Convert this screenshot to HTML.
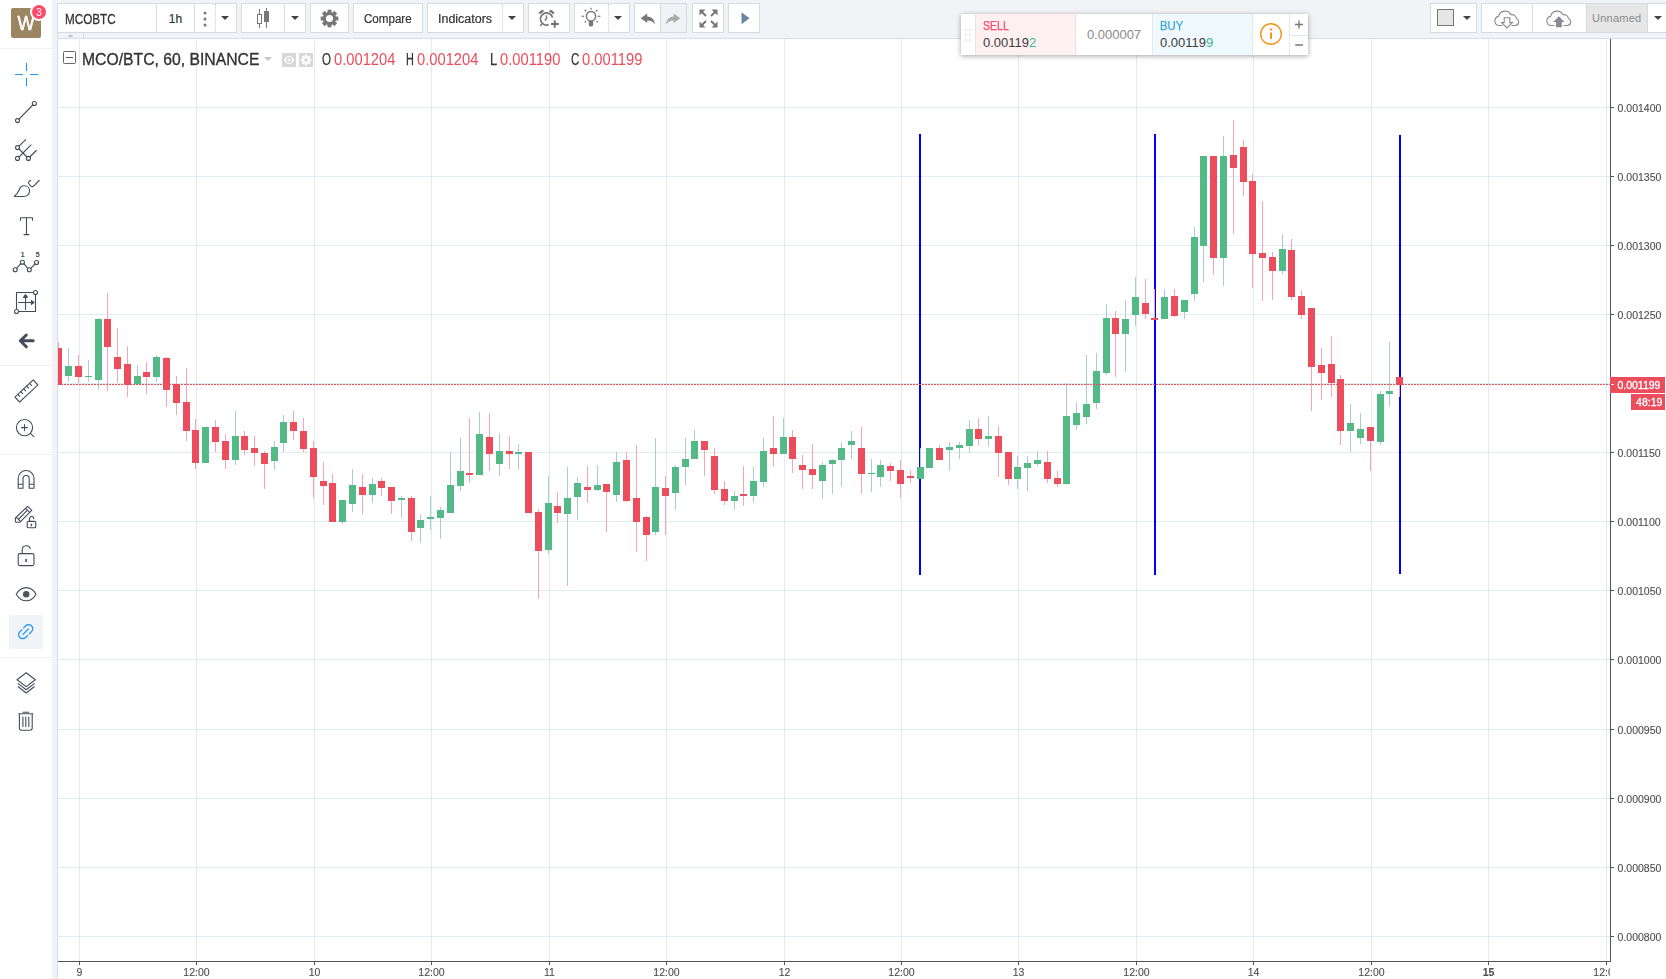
<!DOCTYPE html>
<html><head><meta charset="utf-8"><title>MCOBTC</title>
<style>
html,body{margin:0;padding:0}
body{width:1666px;height:979px;overflow:hidden;position:relative;background:#f1f3f6;font-family:"Liberation Sans",sans-serif;color:#4a4a4a}
.abs{position:absolute}
#left{position:absolute;left:0;top:0;width:52px;height:979px;background:#fff}
#paxis{position:absolute;left:1611px;top:39px;width:55px;height:940px;background:#fff}
#taxis{position:absolute;left:58px;top:962px;width:1553px;height:17px;background:#fff}
.btn{position:absolute;top:3px;height:28px;background:#fff;border:1px solid #d5dbe1;box-sizing:content-box}
.sep{position:absolute;top:0;width:1px;height:28px;background:#d5dbe1}
.dsep{position:absolute;top:0;width:0;height:28px;border-left:1px dotted #cdd2d8}
.tt{position:absolute;font-size:13px;color:#4a4a4a;white-space:nowrap}
.lsep{position:absolute;left:0;width:52px;height:1px;background:#eceff3}
</style></head><body>
<div id="left"></div>
<div id="paxis"></div>
<div id="taxis"></div>
<div class="abs" style="left:57px;top:38px;width:1609px;height:1px;background:#d8dde3"></div>
<div class="abs" style="left:57px;top:38px;width:1px;height:941px;background:#d8dde3"></div>
<!-- collapse tab -->
<div class="abs" style="left:57px;top:32px;width:27px;height:6px;background:#f1f3f6;border:1px solid #d8dde3;border-bottom:none;box-sizing:border-box"></div>
<svg class="abs" style="left:67px;top:33px" width="7" height="5" viewBox="0 0 7 5"><path d="M0.8 4 L3.5 1 L6.2 4 Z" fill="#c0c4c9"/></svg>
<!-- symbol group -->
<div class="btn" style="left:57px;width:178px">
  <div class="sep" style="left:98px"></div>
  <div class="sep" style="left:136px"></div>
  <div class="dsep" style="left:157px"></div>
  <span class="tt" style="left:7px;top:6.5px;font-size:14px;transform:scaleX(.835);transform-origin:0 50%;color:#333;-webkit-text-stroke:.3px #333">MCOBTC</span>
  <span class="tt" style="left:99px;width:37px;text-align:center;top:8px;font-size:12px;color:#333;-webkit-text-stroke:.2px #333">1h</span>
  <svg class="abs" style="left:144.3px;top:5.5px" width="6" height="18" viewBox="0 0 6 18"><circle cx="3" cy="3" r="1.5" fill="#777"/><circle cx="3" cy="9" r="1.5" fill="#777"/><circle cx="3" cy="15" r="1.5" fill="#777"/></svg>
  <svg class="abs" style="left:163px;top:12px" width="8" height="4" viewBox="0 0 8 4"><path d="M0 0H8L4 4Z" fill="#444"/></svg>
</div>
<!-- candle style -->
<div class="btn" style="left:241px;width:63px">
  <div class="sep" style="left:42px"></div>
  <svg class="abs" style="left:14px;top:3px" width="16" height="22" viewBox="0 0 16 22" shape-rendering="crispEdges"><rect x="3" y="2" width="1" height="19" fill="#777"/><rect x="1.5" y="7.5" width="4" height="9" fill="#fff" stroke="#777" stroke-width="1"/><rect x="10" y="1" width="1" height="20" fill="#777"/><rect x="8" y="4" width="5" height="11" fill="#777"/></svg>
  <svg class="abs" style="left:48.5px;top:12px" width="8" height="4" viewBox="0 0 8 4"><path d="M0 0H8L4 4Z" fill="#444"/></svg>
</div>
<!-- settings -->
<div class="btn" style="left:310px;width:37px">
  <svg class="abs" style="left:9px;top:5px" width="19" height="19" viewBox="-9.5 -9.5 19 19"><g fill="#777"><circle r="6.6"/><g id="tooth"><rect x="-2" y="-8.8" width="4" height="4"/></g><rect x="-2" y="-8.8" width="4" height="4" transform="rotate(45)"/><rect x="-2" y="-8.8" width="4" height="4" transform="rotate(90)"/><rect x="-2" y="-8.8" width="4" height="4" transform="rotate(135)"/><rect x="-2" y="-8.8" width="4" height="4" transform="rotate(180)"/><rect x="-2" y="-8.8" width="4" height="4" transform="rotate(225)"/><rect x="-2" y="-8.8" width="4" height="4" transform="rotate(270)"/><rect x="-2" y="-8.8" width="4" height="4" transform="rotate(315)"/></g><circle r="3.5" fill="#fff"/></svg>
</div>
<!-- compare -->
<div class="btn" style="left:353px;width:68px">
  <span class="tt" style="left:10px;top:8px;font-size:12px;transform:scaleX(.965);transform-origin:0 50%;color:#333;-webkit-text-stroke:.2px #333">Compare</span>
</div>
<!-- indicators -->
<div class="btn" style="left:427px;width:95px">
  <div class="dsep" style="left:74px"></div>
  <span class="tt" style="left:10px;top:8px;font-size:12px;transform:scaleX(1.04);transform-origin:0 50%;color:#333;-webkit-text-stroke:.2px #333">Indicators</span>
  <svg class="abs" style="left:80px;top:12px" width="8" height="4" viewBox="0 0 8 4"><path d="M0 0H8L4 4Z" fill="#444"/></svg>
</div>
<!-- alarm -->
<div class="btn" style="left:528px;width:40px">
  <svg class="abs" style="left:8px;top:4px" width="24" height="22" viewBox="0 0 24 22" fill="none" stroke="#757575"><path d="M15.49 9.57A6.1 6.1 0 1 0 11.64 16.67" stroke-width="1.7"/><path d="M9.55 7.3V10.4L7.8 12.7" stroke-width="1.4"/><path d="M2.3 5.6A9.1 9.1 0 0 1 6.5 2.6M12.6 2.6A9.1 9.1 0 0 1 16.8 5.6" stroke-width="2.2"/><path d="M5.2 15.7L3.2 17.7" stroke-width="1.6"/><path d="M17.76 12.2V19.8M14 16H21.8" stroke-width="1.9" stroke="#6e6e6e"/></svg>
</div>
<!-- idea -->
<div class="btn" style="left:574px;width:54px">
  <div class="dsep" style="left:33px"></div>
  <svg class="abs" style="left:5.1px;top:2.3px" width="22" height="24" viewBox="0 0 22 24" fill="none" stroke="#777"><ellipse cx="11" cy="10.2" rx="4.6" ry="4.8" stroke-width="1.5" fill="#fff"/><path d="M8.8 14.7h4.4v3.7a2.2 2.2 0 0 1-4.4 0z" fill="#777" stroke="none"/><path d="M11 1.8v1.8M4.6 3.9l1.7 1.5M17.4 3.9l-1.7 1.5M1.6 10.2h2.5M17.9 10.2h2.5M4.6 16.4l1.4-1.2M17.9 16.3l-1.4-1.2" stroke-width="1.15" stroke="#666"/></svg>
  <svg class="abs" style="left:39.3px;top:12px" width="8" height="4" viewBox="0 0 8 4"><path d="M0 0H8L4 4Z" fill="#444"/></svg>
</div>
<!-- undo redo -->
<div class="btn" style="left:634px;width:51px">
  <div class="abs" style="left:26px;top:0;width:25px;height:28px;background:#f0f2f5"></div>
  <div class="sep" style="left:25px"></div>
  <svg class="abs" style="left:5px;top:9px" width="16" height="13" viewBox="0 0 16 13"><path d="M0.8 5.2L7.2 0.6V3.4C12 3.6 14.6 6.8 15 11.6C13.2 8.6 11 7.4 7.2 7.4V10Z" fill="#777"/></svg>
  <svg class="abs" style="left:30px;top:9px" width="16" height="13" viewBox="0 0 16 13"><path d="M15.2 5.2L8.8 0.6V3.4C4 3.6 1.4 6.8 1 11.6C2.8 8.6 5 7.4 8.8 7.4V10Z" fill="#aaa"/></svg>
</div>
<!-- fullscreen -->
<div class="btn" style="left:692px;width:30px">
  <svg class="abs" style="left:5.6px;top:4.6px" width="19" height="19" viewBox="0 0 19 19" fill="#777" stroke="#777"><path d="M0.5 0.5h6l-6 6z M18.5 0.5v6l-6-6z M0.5 18.5v-6l6 6z M18.5 18.5h-6l6-6z" stroke="none"/><path d="M2.5 2.5l4.5 4.5M16.5 2.5l-4.5 4.5M2.5 16.5l4.5-4.5M16.5 16.5l-4.5-4.5" stroke-width="2"/></svg>
</div>
<!-- play -->
<div class="btn" style="left:728px;width:30px">
  <svg class="abs" style="left:12px;top:8px" width="9" height="13" viewBox="0 0 9 13"><path d="M0.5 0.3L8.6 6.3L0.5 12.3Z" fill="#6b87a3"/></svg>
</div>
<!-- layout -->
<div class="btn" style="left:1430px;width:45px">
  <div class="abs" style="left:6px;top:5px;width:15px;height:15px;border:1px solid #777;background:#e6e6e6"></div>
  <svg class="abs" style="left:32px;top:12px" width="8" height="4" viewBox="0 0 8 4"><path d="M0 0H8L4 4Z" fill="#444"/></svg>
</div>
<!-- cloud group -->
<div class="btn" style="left:1481px;width:190px">
  <div class="sep" style="left:50px"></div>
  <div class="sep" style="left:104px"></div><div class="abs" style="left:105px;top:0;width:60px;height:28px;background:#e6e6e6"></div><div class="sep" style="left:165px"></div>
  <svg class="abs" style="left:10.9px;top:5.7px" width="28" height="19" viewBox="0 0 28 19" fill="none" stroke="#8a8a90" stroke-width="1.1"><path d="M9.5 15.5H6.2A4.6 4.6 0 0 1 5.6 6.4A6.6 6.6 0 0 1 18 4.8A4.2 4.2 0 0 1 23.4 8.6A3.6 3.6 0 0 1 22.6 15.5H18.5"/><path d="M11.2 7.8h5.6v4.8h2.6L14 17.9L8.6 12.6h2.6z" fill="#fff"/></svg>
  <svg class="abs" style="left:62.9px;top:5.7px" width="28" height="19" viewBox="0 0 28 19" fill="none" stroke="#8a8a90" stroke-width="1.1"><path d="M9.5 15.5H6.2A4.6 4.6 0 0 1 5.6 6.4A6.6 6.6 0 0 1 18 4.8A4.2 4.2 0 0 1 23.4 8.6A3.6 3.6 0 0 1 22.6 15.5H18.5"/><path d="M10.9 17.2v-5.3H8.3L13.85 6.2L19.4 11.9H16.8v5.3z" fill="#8a8a90" stroke="none"/></svg>
  <span class="tt" style="left:110px;top:8px;font-size:11px;letter-spacing:.25px;color:#8a8a8a">Unnamed</span>
  <svg class="abs" style="left:172px;top:12px" width="8" height="4" viewBox="0 0 8 4"><path d="M0 0H8L4 4Z" fill="#444"/></svg>
</div>

<!-- avatar -->
<div class="abs" style="left:11px;top:8px;width:30px;height:30px;background:#9c8561;border-radius:2px"></div>
<div class="abs" style="left:10.5px;top:8px;width:30px;height:30px;line-height:30px;text-align:center;color:#fff;font-size:19.5px;transform:scaleX(.93);-webkit-text-stroke:.5px #fff">W</div>
<div class="abs" style="left:30px;top:3px;width:14px;height:14px;border-radius:50%;background:#ff4a68;border:2px solid #fff;color:#fff;font-size:10px;line-height:15.5px;text-align:center">3</div>
<div class="lsep" style="top:48px"></div>
<div class="lsep" style="top:365px"></div>
<div class="lsep" style="top:454px"></div>
<div class="lsep" style="top:657px"></div>
<div class="abs" style="left:9px;top:615px;width:34px;height:34px;border-radius:3px;background:#f1f3f6"></div>
<svg class="abs" style="left:0;top:48px" width="52" height="700" viewBox="0 48 52 700" fill="none" stroke="#454b58" stroke-width="1.1" stroke-linecap="round" stroke-linejoin="round">
<!-- crosshair -->
<path d="M15 74.5H23M30 74.5H38M26.5 63V71M26.5 78V86" stroke="#2196f3" stroke-width="1.1" stroke-linecap="butt"/>
<!-- trend line -->
<path d="M19 119.2L32.8 105"/><circle cx="17.5" cy="120.6" r="2"/><circle cx="34.3" cy="103.5" r="2"/>
<!-- pitchfork -->
<path d="M19 146.2L25.7 139.6M19 149L27 157M19 157L31 144.8M29.8 157L36.3 150.5"/><circle cx="17.5" cy="147.6" r="2"/><circle cx="17.5" cy="158.4" r="2"/><circle cx="28.4" cy="158.4" r="2"/>
<!-- brush -->
<path d="M14.3 196.5H23.6C27 196.5 29.6 194 29.6 190.8C29.6 187.8 27 185.8 24 185.8C21.6 185.8 20.3 187 19.4 189.5C18.5 192 16.6 194.4 14.3 196.5Z"/><path d="M30.7 180.4C29 181.3 28 182.3 28.7 183.5L30.6 185.8C31.6 186.9 32.8 186.9 33.8 185.9L39.2 180.5"/>
<!-- T -->
<path d="M20.5 220.2V217.8H32.5V220.2M26.5 217.8V234.6M24 234.6H29"/>
<!-- pattern -->
<path d="M16.6 268.3L21 263.7M23.8 263.7L27.9 268.3M30.7 268.3L35.1 264"/><circle cx="15.2" cy="269.7" r="2"/><circle cx="22.4" cy="262.2" r="2"/><circle cx="29.3" cy="269.7" r="2"/><circle cx="36.5" cy="262.5" r="2"/>
<!-- measure -->
<path d="M16.5 309.6V292.5H33.6M35.5 294.5V311.5H18.3"/><circle cx="35.5" cy="292.5" r="2" fill="#fff"/><circle cx="16.5" cy="311.5" r="2" fill="#fff"/><path d="M25.5 309.5V295.5M18.5 302.5H32.5"/><path d="M23.6 297.4L25.5 294.6L27.4 297.4ZM31.4 300.6L34 302.5L31.4 304.4Z" fill="#4c525e"/>
<!-- back arrow -->
<path d="M26.3 335L20.3 340.8L26.3 346.8M20.8 340.8H33.2" stroke-width="3"/>
<!-- ruler -->
<g transform="translate(26.4 391) rotate(-43)"><rect x="-12.5" y="-3.4" width="25" height="6.8"/><path d="M-8.5 -3.4V-0.6M-4.5 -3.4V-0.6M-0.5 -3.4V-0.6M3.5 -3.4V-0.6M7.5 -3.4V-0.6"/></g>
<!-- zoom -->
<circle cx="24.5" cy="427.6" r="8.1"/><path d="M24.5 424.6V430.6M21.5 427.6H27.5M30.5 433.4L33.8 436.6"/>
<!-- magnet -->
<path d="M18.2 488.2V478.4A7.9 7.9 0 0 1 34 478.4V488.2H29.2V478.6A3.1 3.1 0 0 0 23 478.6V488.2ZM18.2 484.3H23M29.2 484.3H34"/>
<!-- pencil lock -->
<path d="M15.4 518L27.6 506.3L31.8 510.4L20 522.2H16.4A1 1 0 0 1 15.4 521.2ZM25.6 508.3L29.6 512.4M16.4 517.4L20.6 521.6M18.7 519L27.5 510.1"/>
<rect x="27.2" y="521.4" width="8.5" height="6.3" rx="1" fill="#fff"/><path d="M29.6 521.3V518.4A2.05 2.05 0 0 1 33.7 518.6"/><path d="M31.45 524.3V525.7" stroke-width="1.3"/>
<!-- lock -->
<rect x="18.2" y="553.6" width="15.8" height="12" rx="1.6"/><path d="M22.2 553.4V549.6A4.1 4.1 0 0 1 30.2 548.6"/><path d="M26.1 559V562" stroke-width="1.6" stroke-linecap="butt"/>
<!-- eye -->
<path d="M16.2 594.2C19 589.6 22.4 587.6 26.2 587.6C30 587.6 33.4 589.6 36 594.2C33.4 598.8 30 600.8 26.2 600.8C22.4 600.8 19 598.8 16.2 594.2Z"/><circle cx="26.2" cy="594.2" r="3.2" fill="#4c525e" stroke="none"/>
<!-- link -->
<g transform="translate(25.65 631.65) rotate(-45)" stroke="#2196f3" stroke-width="1.3"><path d="M-1.2 -4.1H-4.15A4.1 4.1 0 0 0 -4.15 4.1H-1.2M1.2 -4.1H4.15A4.1 4.1 0 0 1 4.15 4.1H1.2M-3.8 0H3.8"/></g>
<!-- layers -->
<path d="M26.2 672.8L35.4 679.7L26.2 686.6L17 679.7Z"/><path d="M18.2 683.6L26.2 689.8L34.2 683.6M18.2 686.8L26.2 693L34.2 686.8"/>
<!-- trash -->
<path d="M18.8 713.7H32.8M23 712.2H28.6M19.4 713.7V728A2.2 2.2 0 0 0 21.6 730.2H30A2.2 2.2 0 0 0 32.2 728V713.7M22.9 717V726.6M25.8 717V726.6M28.8 717V726.6"/>
</svg>
<div class="abs" style="left:19px;top:250px;font-size:7.5px;font-weight:bold;color:#4c525e;width:7px;text-align:center;line-height:9px">1</div>
<div class="abs" style="left:34px;top:250px;font-size:7.5px;font-weight:bold;color:#4c525e;width:7px;text-align:center;line-height:9px">5</div>

<svg id="chart" width="1666" height="979" viewBox="0 0 1666 979" style="position:absolute;left:0;top:0" shape-rendering="crispEdges">
<defs><clipPath id="cp"><rect x="58" y="39" width="1552" height="922"/></clipPath></defs>
<rect x="58" y="39" width="1552" height="922" fill="#fff"/>
<g clip-path="url(#cp)">
<rect x="79" y="39" width="1" height="922" fill="#e1ecf2"/>
<rect x="196" y="39" width="1" height="922" fill="#e1ecf2"/>
<rect x="314" y="39" width="1" height="922" fill="#e1ecf2"/>
<rect x="431" y="39" width="1" height="922" fill="#e1ecf2"/>
<rect x="549" y="39" width="1" height="922" fill="#e1ecf2"/>
<rect x="666" y="39" width="1" height="922" fill="#e1ecf2"/>
<rect x="784" y="39" width="1" height="922" fill="#e1ecf2"/>
<rect x="901" y="39" width="1" height="922" fill="#e1ecf2"/>
<rect x="1018" y="39" width="1" height="922" fill="#e1ecf2"/>
<rect x="1136" y="39" width="1" height="922" fill="#e1ecf2"/>
<rect x="1253" y="39" width="1" height="922" fill="#e1ecf2"/>
<rect x="1371" y="39" width="1" height="922" fill="#e1ecf2"/>
<rect x="1488" y="39" width="1" height="922" fill="#e1ecf2"/>
<rect x="1606" y="39" width="1" height="922" fill="#e1ecf2"/>
<rect x="58" y="107" width="1552" height="1" fill="#e1ecf2"/>
<rect x="58" y="176" width="1552" height="1" fill="#e1ecf2"/>
<rect x="58" y="245" width="1552" height="1" fill="#e1ecf2"/>
<rect x="58" y="314" width="1552" height="1" fill="#e1ecf2"/>
<rect x="58" y="383" width="1552" height="1" fill="#e1ecf2"/>
<rect x="58" y="452" width="1552" height="1" fill="#e1ecf2"/>
<rect x="58" y="521" width="1552" height="1" fill="#e1ecf2"/>
<rect x="58" y="590" width="1552" height="1" fill="#e1ecf2"/>
<rect x="58" y="659" width="1552" height="1" fill="#e1ecf2"/>
<rect x="58" y="729" width="1552" height="1" fill="#e1ecf2"/>
<rect x="58" y="798" width="1552" height="1" fill="#e1ecf2"/>
<rect x="58" y="867" width="1552" height="1" fill="#e1ecf2"/>
<rect x="58" y="936" width="1552" height="1" fill="#e1ecf2"/>
<rect x="919" y="134" width="2" height="441" fill="#0000ff"/>
<rect x="1154" y="134" width="2" height="441" fill="#0000ff"/>
<rect x="1399" y="135" width="2" height="439" fill="#0000ff"/>
<rect x="58" y="342" width="1" height="43" fill="#f5a6ae"/>
<rect x="68" y="348" width="1" height="34" fill="#a9cdd3"/>
<rect x="78" y="355" width="1" height="28" fill="#f5a6ae"/>
<rect x="88" y="360" width="1" height="22" fill="#a9cdd3"/>
<rect x="98" y="318" width="1" height="72" fill="#a9cdd3"/>
<rect x="107" y="293" width="1" height="98" fill="#f5a6ae"/>
<rect x="117" y="328" width="1" height="55" fill="#f5a6ae"/>
<rect x="127" y="346" width="1" height="51" fill="#f5a6ae"/>
<rect x="137" y="365" width="1" height="19" fill="#a9cdd3"/>
<rect x="146" y="362" width="1" height="32" fill="#f5a6ae"/>
<rect x="156" y="355" width="1" height="27" fill="#a9cdd3"/>
<rect x="166" y="357" width="1" height="50" fill="#f5a6ae"/>
<rect x="176" y="376" width="1" height="39" fill="#f5a6ae"/>
<rect x="186" y="368" width="1" height="73" fill="#f5a6ae"/>
<rect x="195" y="419" width="1" height="50" fill="#f5a6ae"/>
<rect x="205" y="427" width="1" height="36" fill="#a9cdd3"/>
<rect x="215" y="420" width="1" height="32" fill="#f5a6ae"/>
<rect x="225" y="434" width="1" height="35" fill="#f5a6ae"/>
<rect x="235" y="411" width="1" height="54" fill="#a9cdd3"/>
<rect x="244" y="431" width="1" height="24" fill="#f5a6ae"/>
<rect x="254" y="436" width="1" height="30" fill="#f5a6ae"/>
<rect x="264" y="451" width="1" height="38" fill="#f5a6ae"/>
<rect x="274" y="441" width="1" height="29" fill="#a9cdd3"/>
<rect x="283" y="415" width="1" height="37" fill="#a9cdd3"/>
<rect x="293" y="411" width="1" height="29" fill="#f5a6ae"/>
<rect x="303" y="418" width="1" height="34" fill="#f5a6ae"/>
<rect x="313" y="441" width="1" height="57" fill="#f5a6ae"/>
<rect x="323" y="462" width="1" height="43" fill="#f5a6ae"/>
<rect x="332" y="474" width="1" height="48" fill="#f5a6ae"/>
<rect x="342" y="500" width="1" height="24" fill="#a9cdd3"/>
<rect x="352" y="469" width="1" height="43" fill="#a9cdd3"/>
<rect x="362" y="474" width="1" height="40" fill="#f5a6ae"/>
<rect x="372" y="478" width="1" height="25" fill="#a9cdd3"/>
<rect x="381" y="478" width="1" height="18" fill="#f5a6ae"/>
<rect x="391" y="487" width="1" height="27" fill="#f5a6ae"/>
<rect x="401" y="496" width="1" height="22" fill="#a9cdd3"/>
<rect x="411" y="496" width="1" height="45" fill="#f5a6ae"/>
<rect x="420" y="514" width="1" height="29" fill="#a9cdd3"/>
<rect x="430" y="496" width="1" height="34" fill="#a9cdd3"/>
<rect x="440" y="507" width="1" height="32" fill="#a9cdd3"/>
<rect x="450" y="452" width="1" height="61" fill="#a9cdd3"/>
<rect x="460" y="438" width="1" height="53" fill="#a9cdd3"/>
<rect x="469" y="418" width="1" height="65" fill="#f5a6ae"/>
<rect x="479" y="412" width="1" height="63" fill="#a9cdd3"/>
<rect x="489" y="413" width="1" height="58" fill="#f5a6ae"/>
<rect x="499" y="433" width="1" height="43" fill="#a9cdd3"/>
<rect x="509" y="436" width="1" height="33" fill="#f5a6ae"/>
<rect x="518" y="444" width="1" height="26" fill="#a9cdd3"/>
<rect x="528" y="452" width="1" height="61" fill="#f5a6ae"/>
<rect x="538" y="509" width="1" height="90" fill="#f5a6ae"/>
<rect x="548" y="476" width="1" height="78" fill="#a9cdd3"/>
<rect x="557" y="492" width="1" height="31" fill="#f5a6ae"/>
<rect x="567" y="467" width="1" height="119" fill="#a9cdd3"/>
<rect x="577" y="477" width="1" height="43" fill="#a9cdd3"/>
<rect x="587" y="466" width="1" height="37" fill="#f5a6ae"/>
<rect x="597" y="465" width="1" height="26" fill="#a9cdd3"/>
<rect x="606" y="484" width="1" height="48" fill="#f5a6ae"/>
<rect x="616" y="452" width="1" height="50" fill="#a9cdd3"/>
<rect x="626" y="452" width="1" height="50" fill="#f5a6ae"/>
<rect x="636" y="445" width="1" height="107" fill="#f5a6ae"/>
<rect x="646" y="516" width="1" height="45" fill="#f5a6ae"/>
<rect x="655" y="438" width="1" height="97" fill="#a9cdd3"/>
<rect x="665" y="476" width="1" height="59" fill="#f5a6ae"/>
<rect x="675" y="465" width="1" height="45" fill="#a9cdd3"/>
<rect x="685" y="438" width="1" height="47" fill="#a9cdd3"/>
<rect x="694" y="430" width="1" height="29" fill="#a9cdd3"/>
<rect x="704" y="441" width="1" height="35" fill="#f5a6ae"/>
<rect x="714" y="448" width="1" height="46" fill="#f5a6ae"/>
<rect x="724" y="481" width="1" height="24" fill="#f5a6ae"/>
<rect x="734" y="491" width="1" height="19" fill="#a9cdd3"/>
<rect x="743" y="466" width="1" height="40" fill="#f5a6ae"/>
<rect x="753" y="467" width="1" height="36" fill="#a9cdd3"/>
<rect x="763" y="438" width="1" height="49" fill="#a9cdd3"/>
<rect x="773" y="416" width="1" height="51" fill="#f5a6ae"/>
<rect x="783" y="418" width="1" height="36" fill="#a9cdd3"/>
<rect x="792" y="430" width="1" height="43" fill="#f5a6ae"/>
<rect x="802" y="455" width="1" height="34" fill="#f5a6ae"/>
<rect x="812" y="444" width="1" height="45" fill="#f5a6ae"/>
<rect x="822" y="462" width="1" height="37" fill="#a9cdd3"/>
<rect x="832" y="459" width="1" height="35" fill="#a9cdd3"/>
<rect x="841" y="442" width="1" height="45" fill="#a9cdd3"/>
<rect x="851" y="431" width="1" height="28" fill="#a9cdd3"/>
<rect x="861" y="427" width="1" height="67" fill="#f5a6ae"/>
<rect x="871" y="459" width="1" height="33" fill="#a9cdd3"/>
<rect x="880" y="460" width="1" height="27" fill="#a9cdd3"/>
<rect x="890" y="463" width="1" height="18" fill="#f5a6ae"/>
<rect x="900" y="460" width="1" height="38" fill="#f5a6ae"/>
<rect x="910" y="470" width="1" height="13" fill="#f5a6ae"/>
<rect x="920" y="448" width="1" height="31" fill="#a9cdd3"/>
<rect x="929" y="448" width="1" height="20" fill="#a9cdd3"/>
<rect x="939" y="445" width="1" height="15" fill="#f5a6ae"/>
<rect x="949" y="442" width="1" height="29" fill="#a9cdd3"/>
<rect x="959" y="442" width="1" height="17" fill="#a9cdd3"/>
<rect x="969" y="420" width="1" height="33" fill="#a9cdd3"/>
<rect x="978" y="418" width="1" height="27" fill="#f5a6ae"/>
<rect x="988" y="416" width="1" height="31" fill="#a9cdd3"/>
<rect x="998" y="426" width="1" height="51" fill="#f5a6ae"/>
<rect x="1008" y="452" width="1" height="33" fill="#f5a6ae"/>
<rect x="1017" y="456" width="1" height="33" fill="#a9cdd3"/>
<rect x="1027" y="456" width="1" height="35" fill="#a9cdd3"/>
<rect x="1037" y="451" width="1" height="15" fill="#a9cdd3"/>
<rect x="1047" y="451" width="1" height="32" fill="#f5a6ae"/>
<rect x="1057" y="471" width="1" height="16" fill="#f5a6ae"/>
<rect x="1066" y="383" width="1" height="102" fill="#a9cdd3"/>
<rect x="1076" y="402" width="1" height="28" fill="#a9cdd3"/>
<rect x="1086" y="355" width="1" height="69" fill="#a9cdd3"/>
<rect x="1096" y="353" width="1" height="56" fill="#a9cdd3"/>
<rect x="1106" y="304" width="1" height="71" fill="#a9cdd3"/>
<rect x="1115" y="311" width="1" height="66" fill="#f5a6ae"/>
<rect x="1125" y="300" width="1" height="72" fill="#a9cdd3"/>
<rect x="1135" y="277" width="1" height="49" fill="#a9cdd3"/>
<rect x="1145" y="279" width="1" height="40" fill="#f5a6ae"/>
<rect x="1154" y="289" width="1" height="31" fill="#f5a6ae"/>
<rect x="1164" y="289" width="1" height="30" fill="#a9cdd3"/>
<rect x="1174" y="289" width="1" height="28" fill="#f5a6ae"/>
<rect x="1184" y="300" width="1" height="19" fill="#a9cdd3"/>
<rect x="1194" y="227" width="1" height="74" fill="#a9cdd3"/>
<rect x="1203" y="156" width="1" height="126" fill="#a9cdd3"/>
<rect x="1213" y="156" width="1" height="119" fill="#f5a6ae"/>
<rect x="1223" y="136" width="1" height="150" fill="#a9cdd3"/>
<rect x="1233" y="120" width="1" height="114" fill="#f5a6ae"/>
<rect x="1243" y="140" width="1" height="56" fill="#f5a6ae"/>
<rect x="1252" y="174" width="1" height="114" fill="#f5a6ae"/>
<rect x="1262" y="201" width="1" height="100" fill="#f5a6ae"/>
<rect x="1272" y="252" width="1" height="48" fill="#f5a6ae"/>
<rect x="1282" y="234" width="1" height="41" fill="#a9cdd3"/>
<rect x="1291" y="239" width="1" height="61" fill="#f5a6ae"/>
<rect x="1301" y="290" width="1" height="29" fill="#f5a6ae"/>
<rect x="1311" y="308" width="1" height="103" fill="#f5a6ae"/>
<rect x="1321" y="348" width="1" height="52" fill="#f5a6ae"/>
<rect x="1331" y="336" width="1" height="61" fill="#f5a6ae"/>
<rect x="1340" y="375" width="1" height="70" fill="#f5a6ae"/>
<rect x="1350" y="404" width="1" height="48" fill="#a9cdd3"/>
<rect x="1360" y="413" width="1" height="31" fill="#a9cdd3"/>
<rect x="1370" y="427" width="1" height="44" fill="#f5a6ae"/>
<rect x="1380" y="391" width="1" height="54" fill="#a9cdd3"/>
<rect x="1389" y="342" width="1" height="65" fill="#a9cdd3"/>
<rect x="1399" y="377" width="1" height="20" fill="#f5a6ae"/>
<rect x="55" y="348" width="7" height="37" fill="#eb4d5c"/>
<rect x="65" y="366" width="7" height="10" fill="#53b987"/>
<rect x="75" y="366" width="7" height="11" fill="#eb4d5c"/>
<rect x="85" y="376" width="7" height="1" fill="#53b987"/>
<rect x="95" y="319" width="7" height="61" fill="#53b987"/>
<rect x="104" y="319" width="7" height="28" fill="#eb4d5c"/>
<rect x="114" y="357" width="7" height="12" fill="#eb4d5c"/>
<rect x="124" y="364" width="7" height="21" fill="#eb4d5c"/>
<rect x="134" y="376" width="7" height="8" fill="#53b987"/>
<rect x="143" y="372" width="7" height="5" fill="#eb4d5c"/>
<rect x="153" y="357" width="7" height="20" fill="#53b987"/>
<rect x="163" y="358" width="7" height="32" fill="#eb4d5c"/>
<rect x="173" y="384" width="7" height="19" fill="#eb4d5c"/>
<rect x="183" y="402" width="7" height="29" fill="#eb4d5c"/>
<rect x="192" y="430" width="7" height="33" fill="#eb4d5c"/>
<rect x="202" y="427" width="7" height="36" fill="#53b987"/>
<rect x="212" y="427" width="7" height="15" fill="#eb4d5c"/>
<rect x="222" y="441" width="7" height="19" fill="#eb4d5c"/>
<rect x="232" y="436" width="7" height="24" fill="#53b987"/>
<rect x="241" y="436" width="7" height="14" fill="#eb4d5c"/>
<rect x="251" y="448" width="7" height="5" fill="#eb4d5c"/>
<rect x="261" y="453" width="7" height="11" fill="#eb4d5c"/>
<rect x="271" y="447" width="7" height="14" fill="#53b987"/>
<rect x="280" y="422" width="7" height="21" fill="#53b987"/>
<rect x="290" y="422" width="7" height="9" fill="#eb4d5c"/>
<rect x="300" y="431" width="7" height="18" fill="#eb4d5c"/>
<rect x="310" y="448" width="7" height="29" fill="#eb4d5c"/>
<rect x="320" y="481" width="7" height="5" fill="#eb4d5c"/>
<rect x="329" y="483" width="7" height="39" fill="#eb4d5c"/>
<rect x="339" y="500" width="7" height="22" fill="#53b987"/>
<rect x="349" y="485" width="7" height="19" fill="#53b987"/>
<rect x="359" y="487" width="7" height="8" fill="#eb4d5c"/>
<rect x="369" y="484" width="7" height="11" fill="#53b987"/>
<rect x="378" y="481" width="7" height="7" fill="#eb4d5c"/>
<rect x="388" y="487" width="7" height="14" fill="#eb4d5c"/>
<rect x="398" y="498" width="7" height="2" fill="#53b987"/>
<rect x="408" y="498" width="7" height="34" fill="#eb4d5c"/>
<rect x="417" y="520" width="7" height="8" fill="#53b987"/>
<rect x="427" y="517" width="7" height="2" fill="#53b987"/>
<rect x="437" y="510" width="7" height="8" fill="#53b987"/>
<rect x="447" y="485" width="7" height="28" fill="#53b987"/>
<rect x="457" y="471" width="7" height="15" fill="#53b987"/>
<rect x="466" y="473" width="7" height="2" fill="#eb4d5c"/>
<rect x="476" y="434" width="7" height="41" fill="#53b987"/>
<rect x="486" y="437" width="7" height="17" fill="#eb4d5c"/>
<rect x="496" y="451" width="7" height="13" fill="#53b987"/>
<rect x="506" y="451" width="7" height="3" fill="#eb4d5c"/>
<rect x="515" y="452" width="7" height="2" fill="#53b987"/>
<rect x="525" y="452" width="7" height="61" fill="#eb4d5c"/>
<rect x="535" y="512" width="7" height="39" fill="#eb4d5c"/>
<rect x="545" y="503" width="7" height="47" fill="#53b987"/>
<rect x="554" y="506" width="7" height="7" fill="#eb4d5c"/>
<rect x="564" y="498" width="7" height="16" fill="#53b987"/>
<rect x="574" y="483" width="7" height="14" fill="#53b987"/>
<rect x="584" y="487" width="7" height="3" fill="#eb4d5c"/>
<rect x="594" y="485" width="7" height="5" fill="#53b987"/>
<rect x="603" y="484" width="7" height="8" fill="#eb4d5c"/>
<rect x="613" y="462" width="7" height="33" fill="#53b987"/>
<rect x="623" y="460" width="7" height="41" fill="#eb4d5c"/>
<rect x="633" y="498" width="7" height="24" fill="#eb4d5c"/>
<rect x="643" y="517" width="7" height="18" fill="#eb4d5c"/>
<rect x="652" y="487" width="7" height="45" fill="#53b987"/>
<rect x="662" y="488" width="7" height="8" fill="#eb4d5c"/>
<rect x="672" y="467" width="7" height="26" fill="#53b987"/>
<rect x="682" y="459" width="7" height="8" fill="#53b987"/>
<rect x="691" y="441" width="7" height="18" fill="#53b987"/>
<rect x="701" y="441" width="7" height="9" fill="#eb4d5c"/>
<rect x="711" y="456" width="7" height="34" fill="#eb4d5c"/>
<rect x="721" y="489" width="7" height="12" fill="#eb4d5c"/>
<rect x="731" y="496" width="7" height="5" fill="#53b987"/>
<rect x="740" y="494" width="7" height="2" fill="#eb4d5c"/>
<rect x="750" y="481" width="7" height="15" fill="#53b987"/>
<rect x="760" y="451" width="7" height="31" fill="#53b987"/>
<rect x="770" y="448" width="7" height="6" fill="#eb4d5c"/>
<rect x="780" y="437" width="7" height="17" fill="#53b987"/>
<rect x="789" y="437" width="7" height="22" fill="#eb4d5c"/>
<rect x="799" y="465" width="7" height="5" fill="#eb4d5c"/>
<rect x="809" y="469" width="7" height="6" fill="#eb4d5c"/>
<rect x="819" y="465" width="7" height="16" fill="#53b987"/>
<rect x="829" y="460" width="7" height="4" fill="#53b987"/>
<rect x="838" y="448" width="7" height="12" fill="#53b987"/>
<rect x="848" y="441" width="7" height="4" fill="#53b987"/>
<rect x="858" y="448" width="7" height="26" fill="#eb4d5c"/>
<rect x="868" y="473" width="7" height="1" fill="#53b987"/>
<rect x="877" y="465" width="7" height="12" fill="#53b987"/>
<rect x="887" y="466" width="7" height="5" fill="#eb4d5c"/>
<rect x="897" y="470" width="7" height="14" fill="#eb4d5c"/>
<rect x="907" y="476" width="7" height="2" fill="#eb4d5c"/>
<rect x="917" y="467" width="7" height="12" fill="#53b987"/>
<rect x="926" y="448" width="7" height="20" fill="#53b987"/>
<rect x="936" y="448" width="7" height="12" fill="#eb4d5c"/>
<rect x="946" y="447" width="7" height="3" fill="#53b987"/>
<rect x="956" y="445" width="7" height="3" fill="#53b987"/>
<rect x="966" y="429" width="7" height="17" fill="#53b987"/>
<rect x="975" y="429" width="7" height="10" fill="#eb4d5c"/>
<rect x="985" y="436" width="7" height="3" fill="#53b987"/>
<rect x="995" y="436" width="7" height="17" fill="#eb4d5c"/>
<rect x="1005" y="452" width="7" height="27" fill="#eb4d5c"/>
<rect x="1014" y="467" width="7" height="12" fill="#53b987"/>
<rect x="1024" y="463" width="7" height="5" fill="#53b987"/>
<rect x="1034" y="460" width="7" height="4" fill="#53b987"/>
<rect x="1044" y="462" width="7" height="17" fill="#eb4d5c"/>
<rect x="1054" y="478" width="7" height="6" fill="#eb4d5c"/>
<rect x="1063" y="416" width="7" height="68" fill="#53b987"/>
<rect x="1073" y="413" width="7" height="12" fill="#53b987"/>
<rect x="1083" y="404" width="7" height="13" fill="#53b987"/>
<rect x="1093" y="371" width="7" height="32" fill="#53b987"/>
<rect x="1103" y="318" width="7" height="55" fill="#53b987"/>
<rect x="1112" y="318" width="7" height="16" fill="#eb4d5c"/>
<rect x="1122" y="319" width="7" height="15" fill="#53b987"/>
<rect x="1132" y="297" width="7" height="18" fill="#53b987"/>
<rect x="1142" y="303" width="7" height="11" fill="#eb4d5c"/>
<rect x="1151" y="318" width="7" height="2" fill="#eb4d5c"/>
<rect x="1161" y="297" width="7" height="22" fill="#53b987"/>
<rect x="1171" y="296" width="7" height="20" fill="#eb4d5c"/>
<rect x="1181" y="300" width="7" height="12" fill="#53b987"/>
<rect x="1191" y="237" width="7" height="57" fill="#53b987"/>
<rect x="1200" y="156" width="7" height="90" fill="#53b987"/>
<rect x="1210" y="156" width="7" height="102" fill="#eb4d5c"/>
<rect x="1220" y="156" width="7" height="102" fill="#53b987"/>
<rect x="1230" y="155" width="7" height="13" fill="#eb4d5c"/>
<rect x="1240" y="147" width="7" height="35" fill="#eb4d5c"/>
<rect x="1249" y="181" width="7" height="73" fill="#eb4d5c"/>
<rect x="1259" y="253" width="7" height="5" fill="#eb4d5c"/>
<rect x="1269" y="257" width="7" height="14" fill="#eb4d5c"/>
<rect x="1279" y="249" width="7" height="22" fill="#53b987"/>
<rect x="1288" y="250" width="7" height="47" fill="#eb4d5c"/>
<rect x="1298" y="296" width="7" height="19" fill="#eb4d5c"/>
<rect x="1308" y="308" width="7" height="59" fill="#eb4d5c"/>
<rect x="1318" y="365" width="7" height="8" fill="#eb4d5c"/>
<rect x="1328" y="364" width="7" height="19" fill="#eb4d5c"/>
<rect x="1337" y="379" width="7" height="52" fill="#eb4d5c"/>
<rect x="1347" y="423" width="7" height="8" fill="#53b987"/>
<rect x="1357" y="429" width="7" height="9" fill="#53b987"/>
<rect x="1367" y="427" width="7" height="14" fill="#eb4d5c"/>
<rect x="1377" y="394" width="7" height="48" fill="#53b987"/>
<rect x="1386" y="391" width="7" height="3" fill="#53b987"/>
<rect x="1396" y="377" width="7" height="8" fill="#eb4d5c"/>
<line x1="58" y1="384.5" x2="1610" y2="384.5" stroke="#eb4d5c" stroke-width="1" stroke-dasharray="2 1"/>
</g>
<rect x="1610" y="39" width="1" height="923" fill="#555"/>
<rect x="58" y="961" width="1553" height="1" fill="#555"/>
<rect x="1611" y="107" width="3" height="1" fill="#555"/>
<rect x="1611" y="176" width="3" height="1" fill="#555"/>
<rect x="1611" y="245" width="3" height="1" fill="#555"/>
<rect x="1611" y="314" width="3" height="1" fill="#555"/>
<rect x="1611" y="383" width="3" height="1" fill="#555"/>
<rect x="1611" y="452" width="3" height="1" fill="#555"/>
<rect x="1611" y="521" width="3" height="1" fill="#555"/>
<rect x="1611" y="590" width="3" height="1" fill="#555"/>
<rect x="1611" y="659" width="3" height="1" fill="#555"/>
<rect x="1611" y="729" width="3" height="1" fill="#555"/>
<rect x="1611" y="798" width="3" height="1" fill="#555"/>
<rect x="1611" y="867" width="3" height="1" fill="#555"/>
<rect x="1611" y="936" width="3" height="1" fill="#555"/>
<rect x="79" y="962" width="1" height="3" fill="#555"/>
<rect x="196" y="962" width="1" height="3" fill="#555"/>
<rect x="314" y="962" width="1" height="3" fill="#555"/>
<rect x="431" y="962" width="1" height="3" fill="#555"/>
<rect x="549" y="962" width="1" height="3" fill="#555"/>
<rect x="666" y="962" width="1" height="3" fill="#555"/>
<rect x="784" y="962" width="1" height="3" fill="#555"/>
<rect x="901" y="962" width="1" height="3" fill="#555"/>
<rect x="1018" y="962" width="1" height="3" fill="#555"/>
<rect x="1136" y="962" width="1" height="3" fill="#555"/>
<rect x="1253" y="962" width="1" height="3" fill="#555"/>
<rect x="1371" y="962" width="1" height="3" fill="#555"/>
<rect x="1488" y="962" width="1" height="3" fill="#555"/>
<rect x="1606" y="962" width="1" height="3" fill="#555"/>
</svg>
<div style="position:absolute;left:58px;top:965px;width:1552px;height:14px;overflow:hidden;font-size:10.5px;color:#4e4e4e;-webkit-text-stroke:.12px #4e4e4e;line-height:14px;filter:grayscale(1)"><div style="position:absolute;left:-58px;top:0;width:1666px"><span style="position:absolute;left:49px;width:61px;text-align:center;top:0;">9</span><span style="position:absolute;left:166px;width:61px;text-align:center;top:0;">12:00</span><span style="position:absolute;left:284px;width:61px;text-align:center;top:0;">10</span><span style="position:absolute;left:401px;width:61px;text-align:center;top:0;">12:00</span><span style="position:absolute;left:519px;width:61px;text-align:center;top:0;">11</span><span style="position:absolute;left:636px;width:61px;text-align:center;top:0;">12:00</span><span style="position:absolute;left:754px;width:61px;text-align:center;top:0;">12</span><span style="position:absolute;left:871px;width:61px;text-align:center;top:0;">12:00</span><span style="position:absolute;left:988px;width:61px;text-align:center;top:0;">13</span><span style="position:absolute;left:1106px;width:61px;text-align:center;top:0;">12:00</span><span style="position:absolute;left:1223px;width:61px;text-align:center;top:0;">14</span><span style="position:absolute;left:1341px;width:61px;text-align:center;top:0;">12:00</span><span style="position:absolute;left:1458px;width:61px;text-align:center;top:0;font-weight:bold;">15</span><span style="position:absolute;left:1576px;width:61px;text-align:center;top:0;">12:00</span></div></div>
<div style="position:absolute;left:0;top:0;width:1666px;height:979px;font-size:10.5px;color:#4e4e4e;-webkit-text-stroke:.12px #4e4e4e;filter:grayscale(1)"><span style="position:absolute;left:1617.6px;top:100px;line-height:16px;height:16px">0.001400</span><span style="position:absolute;left:1617.6px;top:169px;line-height:16px;height:16px">0.001350</span><span style="position:absolute;left:1617.6px;top:238px;line-height:16px;height:16px">0.001300</span><span style="position:absolute;left:1617.6px;top:307px;line-height:16px;height:16px">0.001250</span><span style="position:absolute;left:1617.6px;top:445px;line-height:16px;height:16px">0.001150</span><span style="position:absolute;left:1617.6px;top:514px;line-height:16px;height:16px">0.001100</span><span style="position:absolute;left:1617.6px;top:583px;line-height:16px;height:16px">0.001050</span><span style="position:absolute;left:1617.6px;top:652px;line-height:16px;height:16px">0.001000</span><span style="position:absolute;left:1617.6px;top:722px;line-height:16px;height:16px">0.000950</span><span style="position:absolute;left:1617.6px;top:791px;line-height:16px;height:16px">0.000900</span><span style="position:absolute;left:1617.6px;top:860px;line-height:16px;height:16px">0.000850</span><span style="position:absolute;left:1617.6px;top:929px;line-height:16px;height:16px">0.000800</span></div>
<div class="abs" style="left:1610px;top:377px;width:55px;height:16px;background:#eb4d5c"></div>
<div class="abs" style="left:1611px;top:384px;width:3px;height:1px;background:#fff"></div>
<div class="abs" style="left:1631px;top:394px;width:34px;height:16px;background:#eb4d5c"></div>
<div class="abs" style="left:1600px;top:370px;width:66px;height:44px;filter:grayscale(1);font-size:10.5px;color:#fff;-webkit-text-stroke:.3px #fff">
<div class="abs" style="left:17.4px;top:7px;height:16px;line-height:16px">0.001199</div>
<div class="abs" style="left:31px;top:24px;width:31.4px;text-align:right;height:16px;line-height:16px">48:19</div>
</div>

<div class="abs" style="left:63px;top:51px;width:13px;height:13px;border:1px solid #666;border-radius:1.5px;box-sizing:border-box;background:#fff"></div>
<div class="abs" style="left:66px;top:57px;width:7px;height:1px;background:#555"></div>
<div id="ltitle" class="abs" style="left:82.3px;top:48.5px;height:20px;line-height:20px;font-size:16.5px;color:#333;-webkit-text-stroke:.35px #333;white-space:nowrap;transform:scaleX(.953);transform-origin:0 50%">MCO/BTC, 60, BINANCE</div>
<svg class="abs" style="left:264px;top:57px" width="8" height="4" viewBox="0 0 8 4"><path d="M0 0H8L4 4Z" fill="#c8c8c8"/></svg>
<div class="abs" style="left:282px;top:53px;width:14px;height:14px;background:#d8d8d8"></div>
<svg class="abs" style="left:282px;top:53px" width="14" height="14" viewBox="0 0 14 14"><path d="M1.8 7C3.4 4.2 5.2 3.1 7 3.1C8.8 3.1 10.6 4.2 12.2 7C10.6 9.8 8.8 10.9 7 10.9C5.2 10.9 3.4 9.8 1.8 7Z" fill="#fff"/><circle cx="7" cy="7" r="2.9" fill="#d8d8d8"/><circle cx="7" cy="7" r="1.4" fill="#fff"/></svg>
<div class="abs" style="left:299px;top:53px;width:14px;height:14px;background:#d8d8d8"></div>
<svg class="abs" style="left:299px;top:53px" width="14" height="14" viewBox="-7 -7 14 14"><g fill="#fff"><circle r="3.7"/><rect x="-1.1" y="-5.3" width="2.2" height="10.6"/><rect x="-1.1" y="-5.3" width="2.2" height="10.6" transform="rotate(45)"/><rect x="-1.1" y="-5.3" width="2.2" height="10.6" transform="rotate(90)"/><rect x="-1.1" y="-5.3" width="2.2" height="10.6" transform="rotate(135)"/></g><circle r="1.9" fill="#d8d8d8"/></svg>
<div class="abs ohlc" style="left:321px;top:48.5px;height:20px;line-height:20px;font-size:16.5px;color:#333;white-space:nowrap">
<span class="abs" style="left:0.5px;transform:scaleX(.7);transform-origin:0 50%;-webkit-text-stroke:.25px #333">O</span><span class="abs" style="left:12.6px;color:#eb4d5c;transform:scaleX(.893);transform-origin:0 50%">0.001204</span>
<span class="abs" style="left:84.5px;transform:scaleX(.66);transform-origin:0 50%;-webkit-text-stroke:.25px #333">H</span><span class="abs" style="left:96px;color:#eb4d5c;transform:scaleX(.893);transform-origin:0 50%">0.001204</span>
<span class="abs" style="left:168.5px;transform:scaleX(.78);transform-origin:0 50%;-webkit-text-stroke:.25px #333">L</span><span class="abs" style="left:178.5px;color:#eb4d5c;transform:scaleX(.893);transform-origin:0 50%">0.001190</span>
<span class="abs" style="left:250.4px;transform:scaleX(.7);transform-origin:0 50%;-webkit-text-stroke:.25px #333">C</span><span class="abs" style="left:261px;color:#eb4d5c;transform:scaleX(.893);transform-origin:0 50%">0.001199</span>
</div>

<div class="abs" style="left:961px;top:14px;width:347px;height:41px;background:#fff;box-shadow:0 1px 5px rgba(0,0,0,.36)"></div>
<div class="abs" style="left:975px;top:14px;width:101px;height:41px;background:#fff0f2;border-left:1px solid #ebe3e6;border-right:1px solid #e9dfe3;box-sizing:border-box"></div>
<div class="abs" style="left:1152px;top:14px;width:101px;height:41px;background:#f0f9fd;border-left:1px solid #dfe9ee;border-right:1px solid #dfe9ee;box-sizing:border-box"></div>
<div class="abs" style="left:1289px;top:14px;width:1px;height:41px;background:#e4e7ea"></div>
<div class="abs" style="left:1290px;top:35px;width:18px;height:1px;background:#e4e7ea"></div>
<svg class="abs" style="left:965px;top:28px" width="6" height="14" viewBox="0 0 6 14" fill="#d4d9de"><rect x="0.2" y="1.2" width="1.6" height="1.6"/><rect x="4.2" y="1.2" width="1.6" height="1.6"/><rect x="0.2" y="6.2" width="1.6" height="1.6"/><rect x="4.2" y="6.2" width="1.6" height="1.6"/><rect x="0.2" y="11.2" width="1.6" height="1.6"/><rect x="4.2" y="11.2" width="1.6" height="1.6"/></svg>
<div class="abs" style="left:983px;top:19px;font-size:12px;line-height:14px;color:#ff4a68;-webkit-text-stroke:.25px #ff4a68;transform:scaleX(.88);transform-origin:0 50%">SELL</div>
<div class="abs" style="left:983px;top:35px;font-size:13px;line-height:16px;color:#3c3c3c;letter-spacing:0">0.00119<span style="color:#3cb88f">2</span></div>
<div class="abs" style="left:1076px;top:27px;width:76px;text-align:center;font-size:13px;line-height:16px;color:#8a8a8a;letter-spacing:0">0.000007</div>
<div class="abs" style="left:1160px;top:19px;font-size:12px;line-height:14px;color:#3da5e0;-webkit-text-stroke:.25px #3da5e0;transform:scaleX(.95);transform-origin:0 50%">BUY</div>
<div class="abs" style="left:1160px;top:35px;font-size:13px;line-height:16px;color:#3c3c3c;letter-spacing:0">0.00119<span style="color:#3cb88f">9</span></div>
<svg class="abs" style="left:1259px;top:22px" width="24" height="24" viewBox="0 0 24 24" fill="none" stroke="#f7941d" stroke-width="1.4"><circle cx="12" cy="12" r="10.3"/><path d="M12 10.4V16.8" stroke-width="2.1"/><rect x="10.95" y="6.4" width="2.1" height="2.1" fill="#f7941d" stroke="none"/></svg>
<svg class="abs" style="left:1293px;top:18px" width="12" height="34" viewBox="0 0 12 34" stroke="#777" stroke-width="1.4"><path d="M2 6.5H10M6 2.5V10.5M2.2 27H10"/></svg>

</body></html>
